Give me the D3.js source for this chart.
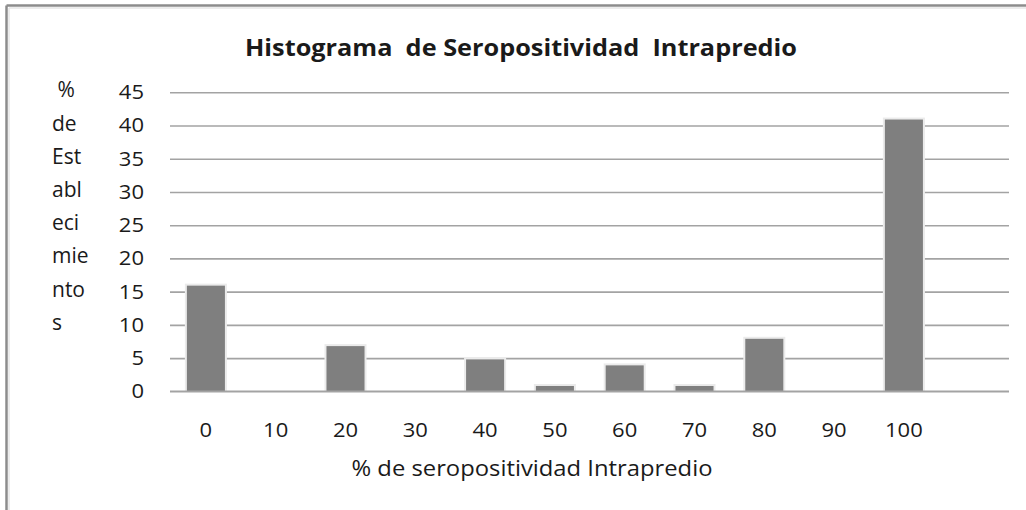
<!DOCTYPE html>
<html>
<head>
<meta charset="utf-8">
<script src="https://cdn.jsdelivr.net/npm/d3@7"></script>
<style>
  html, body { margin: 0; padding: 0; background: #fff; }
  svg { display: block; }
  text { font-family: "Open Sans", Lato, sans-serif; fill: #1a1a1a; }
</style>
</head>
<body>
<svg id="chart" width="1026" height="510"></svg>
<script>
// ---- data ----
const categories = ["0", "10", "20", "30", "40", "50", "60", "70", "80", "90", "100"];
const values = [15.9, 0, 6.8, 0, 4.8, 0.8, 3.9, 0.8, 7.9, 0, 40.9];
const yTicks = [0, 5, 10, 15, 20, 25, 30, 35, 40, 45];
const yLabelLines = [" %", "de", "Est", "abl", "eci", "mie", "nto", "s"];
const titleText = "Histograma  de Seropositividad  Intrapredio";
const xTitleText = "% de seropositividad Intrapredio";

// ---- layout ----
const W = 1026, H = 510;
const plotLeft = 170, plotRight = 1009;
const FONT = "'Open Sans', Lato, sans-serif";

const svg = d3.select("#chart");

function stretch(sel, f) {
  sel.each(function () {
    const w = this.getComputedTextLength();
    if (w > 0) {
      d3.select(this).attr("textLength", w * f).attr("lengthAdjust", "spacingAndGlyphs");
    }
  });
}
function fitWidth(sel, target) {
  sel.attr("textLength", target).attr("lengthAdjust", "spacingAndGlyphs");
}

// frame (top + left edges visible)
svg.append("line").attr("x1", 6.5).attr("x2", W).attr("y1", 5.5).attr("y2", 5.5)
  .attr("stroke", "#8c8c8c").attr("stroke-width", 2.5);
svg.append("line").attr("x1", 6.5).attr("x2", 6.5).attr("y1", 5.5).attr("y2", H)
  .attr("stroke", "#8c8c8c").attr("stroke-width", 2.5);
svg.append("line").attr("x1", 9).attr("x2", W).attr("y1", 8).attr("y2", 8)
  .attr("stroke", "#e6e6e6").attr("stroke-width", 1.5);
svg.append("line").attr("x1", 9).attr("x2", 9).attr("y1", 8).attr("y2", H)
  .attr("stroke", "#e6e6e6").attr("stroke-width", 1.5);

// scales
const x = d3.scaleBand()
  .domain(categories)
  .range([171, 171 + 69.8 * categories.length])
  .paddingInner(0.455)
  .paddingOuter(0.2275);

const y = d3.scaleLinear().domain([0, 45]).range([391.3, 92.3]);

// y axis with gridlines
const yAxis = d3.axisLeft(y)
  .tickValues(yTicks)
  .tickSize(-(plotRight - plotLeft))
  .tickPadding(26)
  .tickFormat(d3.format("d"));

const gy = svg.append("g")
  .attr("transform", `translate(${plotLeft},0)`)
  .call(yAxis);
gy.select(".domain").remove();
gy.selectAll(".tick line").attr("stroke", "#a3a3a3").attr("stroke-width", 1.6);
gy.selectAll(".tick text")
  .attr("font-size", 20)
  .attr("font-family", FONT)
  .attr("fill", "#262626");
stretch(gy.selectAll(".tick text"), 1.1);

// bars: halo + bar
const barData = values.map((v, i) => ({ c: categories[i], v })).filter(d => d.v > 0);
const barG = svg.append("g");
barG.selectAll("rect.halo")
  .data(barData)
  .join("rect")
  .attr("class", "halo")
  .attr("x", d => x(d.c) - 2)
  .attr("y", d => y(d.v) - 2)
  .attr("width", x.bandwidth() + 4)
  .attr("height", d => y(0) - y(d.v) + 2)
  .attr("fill", "#ebebeb");
barG.selectAll("rect.bar")
  .data(barData)
  .join("rect")
  .attr("class", "bar")
  .attr("x", d => x(d.c))
  .attr("y", d => y(d.v))
  .attr("width", x.bandwidth())
  .attr("height", d => y(0) - y(d.v))
  .attr("fill", "#7f7f7f");

// baseline on top
svg.append("line")
  .attr("x1", plotLeft).attr("x2", plotRight)
  .attr("y1", y(0)).attr("y2", y(0))
  .attr("stroke", "#a3a3a3").attr("stroke-width", 1.6);

// x axis labels
const xAxis = d3.axisBottom(x).tickSize(0).tickPadding(32);
const gx = svg.append("g")
  .attr("transform", `translate(0,${y(0)})`)
  .call(xAxis);
gx.select(".domain").remove();
gx.selectAll(".tick text")
  .attr("font-size", 20)
  .attr("font-family", FONT)
  .attr("fill", "#262626");
stretch(gx.selectAll(".tick text"), 1.1);

// title
const title = svg.append("text")
  .attr("x", 521).attr("y", 56)
  .attr("text-anchor", "middle")
  .attr("font-size", 23)
  .attr("font-weight", "bold")
  .attr("fill", "#111")
  .style("white-space", "pre")
  .text(titleText);
fitWidth(title, 552);

// x title
const xTitle = svg.append("text")
  .attr("x", 532).attr("y", 476)
  .attr("text-anchor", "middle")
  .attr("font-size", 21)
  .attr("fill", "#111")
  .text(xTitleText);
fitWidth(xTitle, 361);

// y title, broken into lines
const step = y(40) - y(45);
const yt = svg.append("g");
yt.selectAll("text")
  .data(yLabelLines)
  .join("text")
  .attr("x", 52)
  .attr("y", (d, i) => y(45) + i * step + 5)
  .attr("font-size", 21)
  .attr("fill", "#111")
  .style("white-space", "pre")
  .text(d => d);
</script>
</body>
</html>
